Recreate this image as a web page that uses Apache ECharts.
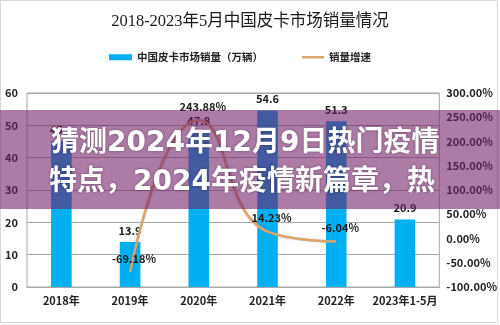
<!DOCTYPE html>
<html>
<head>
<meta charset="utf-8">
<script src="https://cdn.jsdelivr.net/npm/echarts@6/dist/echarts.min.js"></script>
<style>
html,body{margin:0;padding:0;background:#fff;}
#c{width:500px;height:325px;}
</style>
</head>
<body>
<div id="c"></div>
<script>
const categories = ['2018年', '2019年', '2020年', '2021年', '2022年', '2023年1-5月'];
const sales = [45.1, 13.9, 47.8, 54.6, 51.3, 20.9];
const growth = [null, -69.18, 243.88, 14.23, -6.04, null];
const titleText = '2018-2023年5月中国皮卡市场销量情况';
const barName = '中国皮卡市场销量（万辆）';
const lineName = '销量增速';
const overlayLines = ['猜测2024年12月9日热门疫情', '特点，2024年疫情新篇章，热'];

const FONT = '"Noto Sans CJK SC", "Liberation Sans", sans-serif';
const chart = echarts.init(document.getElementById('c'), null, {renderer: 'canvas'});
chart.setOption({
  animation: false,
  backgroundColor: '#fff',
  textStyle: {fontFamily: FONT},
  title: {
    text: titleText, left: 'center', top: 8,
    textStyle: {fontFamily: '"Liberation Serif", "Noto Sans CJK SC", serif', fontSize: 16.5, fontWeight: 'normal', color: '#1a1a1a'}
  },
  legend: [
    {data: [barName], left: 104, top: 47, itemWidth: 23, itemHeight: 6, icon: 'rect',
     textStyle: {fontSize: 10.5, color: '#222', fontWeight: 'bold', fontFamily: FONT}, itemGap: 6},
    {data: [lineName], left: 297, top: 47, itemWidth: 22, itemHeight: 2.5, icon: 'rect',
     textStyle: {fontSize: 10.5, color: '#222', fontWeight: 'bold', fontFamily: FONT}}
  ],
  grid: {left: 27, right: 58, top: 93, bottom: 38, show: true, borderColor: '#a8a8a8', borderWidth: 1},
  xAxis: {
    type: 'category', data: categories,
    axisLine: {lineStyle: {color: '#a8a8a8'}}, axisTick: {show: false},
    axisLabel: {color: '#222', fontSize: 11, fontWeight: 'bold', margin: 8, interval: 0}
  },
  yAxis: [
    {type: 'value', min: 0, max: 60, interval: 10,
     axisLine: {show: false}, axisTick: {show: false},
     splitLine: {lineStyle: {color: '#a8a8a8'}},
     axisLabel: {color: '#222', fontSize: 11, fontWeight: 'bold', margin: 9}},
    {type: 'value', min: -100, max: 300, interval: 50,
     axisLine: {show: false}, axisTick: {show: false}, splitLine: {show: false},
     axisLabel: {color: '#222', fontSize: 11, fontWeight: 'bold', margin: 7, formatter: v => v.toFixed(2) + '%'}}
  ],
  series: [
    {name: barName, type: 'bar', data: sales, barWidth: '30%', itemStyle: {color: '#00b0f0'},
     label: {show: true, position: 'top', distance: 6, color: '#1a1a1a', fontSize: 11, fontWeight: 'bold'}},
    {name: lineName, type: 'line', yAxisIndex: 1, data: growth, smooth: true, connectNulls: false,
     symbol: 'circle', symbolSize: 0.1, itemStyle: {color: '#dea46e'},
     lineStyle: {color: '#dea46e', width: 2.5, shadowColor: 'rgba(120,100,80,0.35)', shadowBlur: 2},
     label: {show: true, position: 'top', distance: 8, color: '#1a1a1a', fontSize: 11, fontWeight: 'bold', offset: [4, 0],
       formatter: p => p.value.toFixed(2) + '%'}, z: 5}
  ],
  graphic: [
    {type: 'rect', z: 100, shape: {x: 0.5, y: 0.5, width: 497, height: 322}, style: {fill: 'none', stroke: '#d8d8d8', lineWidth: 1}},
    {type: 'rect', z: 101, shape: {x: 0, y: 110, width: 500, height: 99}, style: {fill: 'rgba(112,28,102,0.58)'}},
    {type: 'text', z: 102, style: {x: 51, y: 144, text: overlayLines[0], fill: '#fff', verticalAlign: 'middle',
      font: 'bold 28px "DejaVu Sans", "Noto Sans CJK SC", sans-serif', textShadowColor: 'rgba(0,0,0,0.35)', textShadowBlur: 3}},
    {type: 'text', z: 102, style: {x: 49, y: 183, text: overlayLines[1], fill: '#fff', verticalAlign: 'middle',
      font: 'bold 28px "DejaVu Sans", "Noto Sans CJK SC", sans-serif', textShadowColor: 'rgba(0,0,0,0.35)', textShadowBlur: 3}}
  ]
});
</script>
</body>
</html>
